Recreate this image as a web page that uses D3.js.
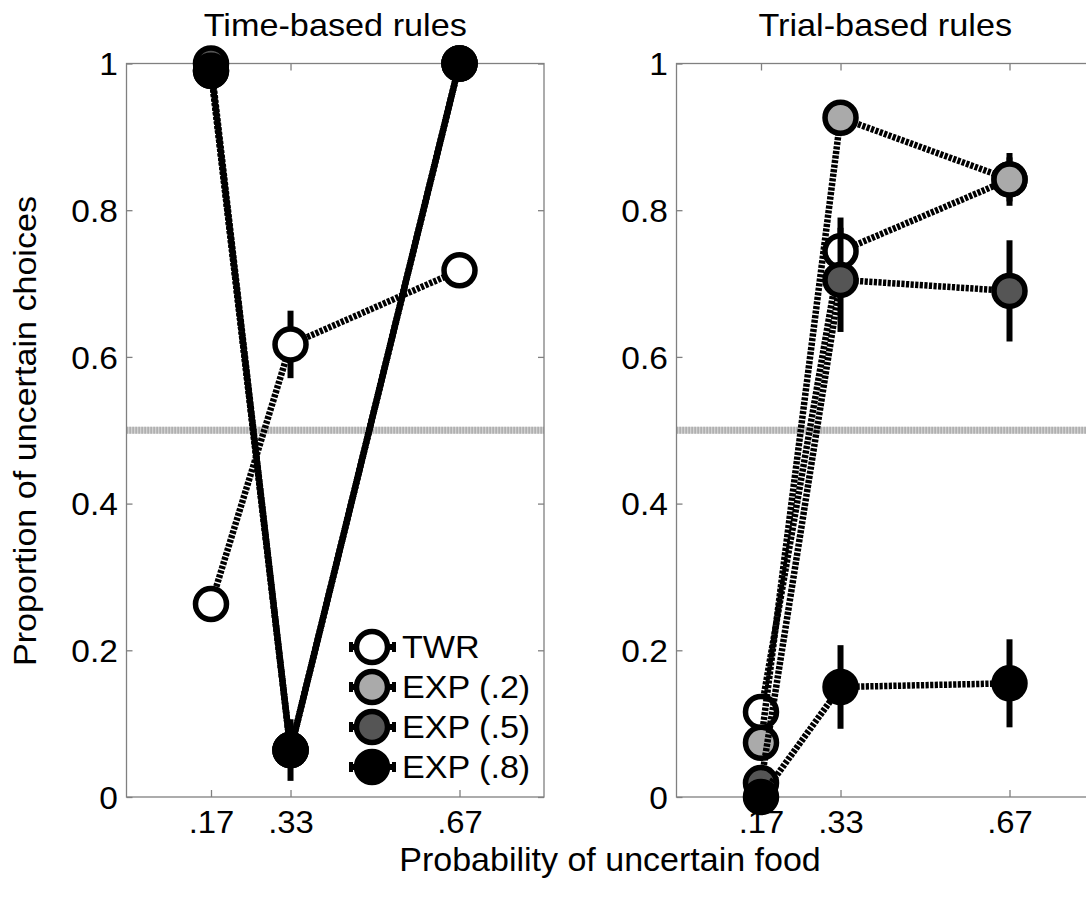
<!DOCTYPE html>
<html>
<head>
<meta charset="utf-8">
<script src="https://cdn.jsdelivr.net/npm/d3@7"></script>
<style>
  html, body { margin: 0; padding: 0; background: #fff; }
  svg { display: block; }
  text { font-family: "Liberation Sans", Arial, Helvetica, sans-serif; fill: #000; }
</style>
</head>
<body>
<svg id="chart" width="1086" height="897"></svg>
<script>
// ---- data ----
const probs = [0.17, 0.33, 0.67];
const probLabels = [".17", ".33", ".67"];
const yTickValues = [0, 0.2, 0.4, 0.6, 0.8, 1];
const yTickLabels = ["0", "0.2", "0.4", "0.6", "0.8", "1"];
const seriesNames = ["TWR", "EXP (.2)", "EXP (.5)", "EXP (.8)"];
const seriesFills = ["#ffffff", "#aaaaaa", "#555555", "#000000"];
const panelTitles = ["Time-based rules", "Trial-based rules"];
const chanceLevel = 0.5;

// Time-based rules: proportion of uncertain choices and error half-widths
const timeTWR     = [0.263, 0.617, 0.718];
const timeTWRErr  = [0, 0.046, 0];
const timeExp2    = [0.99, 0.064, 1.0];
const timeExp2Err = [0, 0, 0];
const timeExp5    = [1.0, 0.064, 1.0];
const timeExp5Err = [0, 0, 0];
const timeExp8    = [0.99, 0.064, 1.0];
const timeExp8Err = [0, 0.042, 0];

// Trial-based rules
const trialTWR     = [0.116, 0.744, 0.842];
const trialTWRErr  = [0, 0.046, 0.03];
const trialExp2    = [0.074, 0.926, 0.842];
const trialExp2Err = [0, 0.01, 0.036];
const trialExp5    = [0.019, 0.705, 0.690];
const trialExp5Err = [0, 0.071, 0.069];
const trialExp8    = [0.0, 0.150, 0.155];
const trialExp8Err = [0, 0.057, 0.06];

const panels = [
  { title: panelTitles[0],
    values: [timeTWR, timeExp2, timeExp5, timeExp8],
    errors: [timeTWRErr, timeExp2Err, timeExp5Err, timeExp8Err],
    left: 126.5, legend: true },
  { title: panelTitles[1],
    values: [trialTWR, trialExp2, trialExp5, trialExp8],
    errors: [trialTWRErr, trialExp2Err, trialExp5Err, trialExp8Err],
    left: 676.5, legend: false }
];

// ---- layout ----
const panelWidth = 417.5;
const plotTop = 63.5, plotBottom = 797;
const frameColor = "#808080";
const markerR = 15.5, markerStroke = 5.5;
const lineW = 6.5, lineDash = "3.2,1.4";

const svg = d3.select("#chart");
svg.append("rect").attr("width", 1086).attr("height", 897).attr("fill", "#fff");

const y = d3.scaleLinear().domain([0, 1]).range([plotBottom, plotTop]);

function styleAxis(g) {
  g.select(".domain").remove();
  g.selectAll(".tick line").attr("stroke", frameColor).attr("stroke-width", 1.3);
  g.selectAll(".tick text")
    .attr("font-size", 31)
    .attr("fill", "#000");
}

panels.forEach(p => {
  const x = d3.scaleLinear().domain([0, 0.84]).range([p.left, p.left + panelWidth]);
  const g = svg.append("g");

  // chance reference line
  const ref = g.append("g");
  ref.append("line")
    .attr("x1", x(0)).attr("x2", x(0.84))
    .attr("y1", y(chanceLevel)).attr("y2", y(chanceLevel))
    .attr("stroke", "#d2d2d2").attr("stroke-width", 7);
  ref.append("line")
    .attr("x1", x(0)).attr("x2", x(0.84))
    .attr("y1", y(chanceLevel)).attr("y2", y(chanceLevel))
    .attr("stroke", "#a2a2a2").attr("stroke-width", 7)
    .attr("stroke-dasharray", "1.2,1.8");

  // frame
  g.append("rect")
    .attr("x", x(0)).attr("y", plotTop)
    .attr("width", x(0.84) - x(0)).attr("height", plotBottom - plotTop)
    .attr("fill", "none").attr("stroke", frameColor).attr("stroke-width", 1.3);

  // axes with inward ticks
  const xb = g.append("g").attr("transform", `translate(0,${plotBottom})`)
    .call(d3.axisBottom(x).tickValues(probs).tickFormat((d, i) => probLabels[i])
      .tickSizeInner(-7).tickSizeOuter(0).tickPadding(14));
  styleAxis(xb);
  xb.selectAll(".tick text").attr("transform", "scale(1.06,1)");

  const xt = g.append("g").attr("transform", `translate(0,${plotTop})`)
    .call(d3.axisTop(x).tickValues(probs).tickFormat("").tickSizeInner(-7).tickSizeOuter(0));
  styleAxis(xt);

  const yl = g.append("g").attr("transform", `translate(${x(0)},0)`)
    .call(d3.axisLeft(y).tickValues(yTickValues).tickFormat((d, i) => yTickLabels[i])
      .tickSizeInner(-6).tickSizeOuter(0).tickPadding(8));
  styleAxis(yl);
  yl.selectAll(".tick text").attr("dy", "0.36em").attr("transform", "scale(1.08,1)");

  const yr = g.append("g").attr("transform", `translate(${x(0.84)},0)`)
    .call(d3.axisRight(y).tickValues(yTickValues).tickFormat("").tickSizeInner(-6).tickSizeOuter(0));
  styleAxis(yr);

  // title
  g.append("text")
    .attr("transform", `translate(${(x(0) + x(0.84)) / 2},36) scale(1.07,1)`)
    .attr("text-anchor", "middle").attr("font-size", 32)
    .text(p.title);

  // series: line, error bars, markers (drawn in order so later ones sit on top)
  const line = d3.line().x(d => x(d.p)).y(d => y(d.v));
  p.values.forEach((vals, si) => {
    const pts = vals.map((v, i) => ({ p: probs[i], v: v, e: p.errors[si][i] }));
    const sg = g.append("g");
    sg.append("path").datum(pts)
      .attr("d", line)
      .attr("fill", "none").attr("stroke", "#000")
      .attr("stroke-width", lineW).attr("stroke-dasharray", lineDash);
    sg.selectAll("line.err").data(pts.filter(d => d.e > 0)).join("line")
      .attr("class", "err")
      .attr("x1", d => x(d.p)).attr("x2", d => x(d.p))
      .attr("y1", d => y(d.v - d.e)).attr("y2", d => y(d.v + d.e))
      .attr("stroke", "#000").attr("stroke-width", 6);
    sg.selectAll("circle").data(pts).join("circle")
      .attr("cx", d => x(d.p)).attr("cy", d => y(d.v))
      .attr("r", markerR)
      .attr("fill", seriesFills[si]).attr("stroke", "#000").attr("stroke-width", markerStroke);
  });

  // legend
  if (p.legend) {
    const lg = g.append("g");
    const rowY = d3.scaleLinear().domain([0, 1]).range([647, 687]);
    seriesNames.forEach((name, i) => {
      const cy = rowY(i);
      lg.append("line").attr("x1", 351).attr("x2", 394).attr("y1", cy).attr("y2", cy)
        .attr("stroke", "#000").attr("stroke-width", 6);
      [351, 394].forEach(cx => {
        lg.append("line").attr("x1", cx).attr("x2", cx).attr("y1", cy - 5).attr("y2", cy + 5)
          .attr("stroke", "#000").attr("stroke-width", 4);
      });
      lg.append("circle").attr("cx", 372).attr("cy", cy).attr("r", markerR)
        .attr("fill", seriesFills[i]).attr("stroke", "#000").attr("stroke-width", markerStroke);
      lg.append("text")
        .attr("transform", `translate(402,${cy + 11}) scale(1.1,1)`)
        .attr("font-size", 31)
        .text(name);
    });
  }
});

// shared axis labels
svg.append("text")
  .attr("transform", "translate(610,871)")
  .attr("text-anchor", "middle").attr("font-size", 34)
  .text("Probability of uncertain food");

svg.append("text")
  .attr("transform", "translate(36,431) rotate(-90) scale(1.1,1)")
  .attr("text-anchor", "middle").attr("font-size", 31)
  .text("Proportion of uncertain choices");
</script>
</body>
</html>
